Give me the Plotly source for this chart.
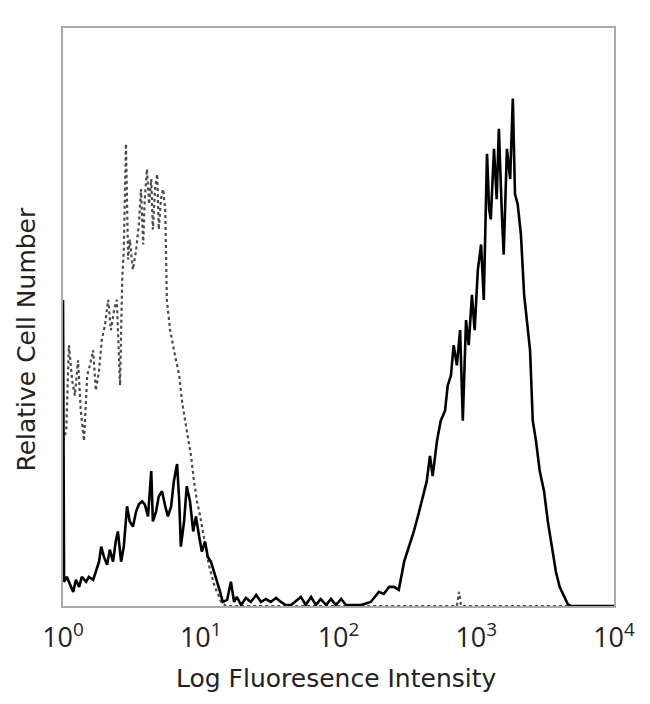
import plotly.graph_objects as go

# Flow cytometry histograms: channel (0-1024 over 4 decades) vs relative count
solid_channel = [0, 2, 7, 13, 19, 24, 30, 35, 43, 48, 56, 61, 67, 71, 76, 82, 87, 93, 98, 102,
                 108, 113, 119, 124, 130, 136, 141, 147, 152, 158, 164, 167, 173, 178, 184, 190,
                 195, 201, 206, 212, 216, 219, 225, 230, 236, 242, 247, 253, 258, 264, 269, 275,
                 281, 286, 292, 297, 305, 312, 318, 323, 331, 340, 349, 359, 368, 377, 386, 396,
                 405, 414, 424, 442, 451, 461, 470, 479, 489, 498, 507, 517, 526, 535, 554, 572,
                 587, 596, 606, 615, 624, 634, 643, 652, 661, 669, 676, 682, 687, 695, 702, 710,
                 715, 721, 726, 732, 738, 743, 749, 754, 760, 765, 771, 777, 782, 788, 792, 795,
                 801, 806, 810, 816, 819, 825, 831, 836, 840, 845, 851, 857, 862, 868, 873, 879,
                 886, 894, 901, 909, 916, 923, 931, 938, 944, 962, 1024]
solid_count = [60.8, 4.8, 5.8, 4.2, 2.8, 5.2, 3.8, 5.8, 4.8, 5.8, 5.2, 6.8, 8.8, 11.8, 9.8, 8.2,
               11.2, 8.8, 12.8, 14.8, 8.8, 11.8, 19.8, 16.8, 15.8, 18.8, 20.2, 20.8, 20.2, 17.8,
               26.8, 16.8, 18.8, 21.8, 22.8, 19.8, 17.8, 19.8, 24.8, 28.2, 20.8, 11.8, 16.8, 23.8,
               20.8, 14.8, 17.8, 13.8, 10.8, 12.8, 9.8, 8.8, 6.8, 4.8, 2.8, 0.8, 1.2, 4.8, 0.8,
               1.8, 0.2, 1.6, 0.8, 2.2, 0.8, 1.4, 0.8, 1.6, 0.8, 0.2, 0.2, 1.8, 0.2, 1.8, 0.2,
               1.4, 0.2, 1.4, 0.2, 1.4, 0.2, 0.2, 0.2, 0.8, 2.8, 2.4, 3.8, 3.8, 3.2, 8.8, 11.8,
               14.8, 18.4, 21.8, 24.8, 29.8, 25.8, 32.8, 36.8, 38.8, 43.8, 45.8, 51.8, 47.8, 54.8,
               36.8, 56.8, 51.8, 61.8, 54.8, 66.8, 71.8, 60.8, 89.8, 78.8, 76.8, 90.8, 80.8, 94.8,
               76.8, 69.8, 90.8, 84.8, 100.8, 81.8, 79.8, 73.8, 61.8, 56.8, 50.8, 36.8, 32.8,
               26.8, 22.8, 16.8, 11.8, 6.8, 3.8, 1.8, 0.4, 0.0, 0.0, 0.0]

dotted_channel = [0, 6, 11, 17, 22, 28, 33, 39, 45, 50, 56, 61, 67, 72, 78, 84, 89, 95, 100, 106,
                  110, 113, 117, 121, 124, 130, 136, 141, 145, 149, 152, 156, 160, 164, 167, 171,
                  175, 178, 182, 186, 190, 193, 199, 204, 210, 216, 221, 227, 232, 238, 243, 249,
                  255, 260, 266, 271, 277, 282, 288, 294, 303, 732, 736, 740, 1024]
dotted_count = [32.8, 34.8, 51.8, 44.8, 41.8, 48.8, 38.8, 32.8, 45.8, 47.8, 50.8, 42.8, 46.8,
                52.8, 55.8, 60.8, 54.8, 58.8, 60.8, 43.8, 64.8, 70.8, 91.8, 68.8, 72.8, 66.8,
                70.8, 75.8, 82.8, 71.8, 80.8, 86.8, 79.8, 84.8, 74.8, 82.8, 85.8, 74.8, 80.8,
                82.8, 78.8, 60.8, 54.8, 51.8, 48.8, 45.8, 40.8, 36.8, 33.8, 29.8, 25.2, 20.8,
                17.8, 14.8, 10.8, 8.2, 5.8, 3.8, 2.4, 0.8, 0.0, 0.0, 2.8, 0.0, 0.0]

tick_vals = [1, 10, 100, 1000, 10000]
tick_text = ["10<sup>0</sup>", "10<sup>1</sup>", "10<sup>2</sup>", "10<sup>3</sup>", "10<sup>4</sup>"]

CH_PER_DECADE = 256.0
solid_x = [10 ** (c / CH_PER_DECADE) for c in solid_channel]
dotted_x = [10 ** (c / CH_PER_DECADE) for c in dotted_channel]

fig = go.Figure()
fig.add_trace(go.Scatter(x=dotted_x, y=dotted_count, mode="lines",
                         line=dict(color="#4a4a4a", width=2.2, dash="dot"),
                         showlegend=False, hoverinfo="skip"))
fig.add_trace(go.Scatter(x=solid_x, y=solid_count, mode="lines",
                         line=dict(color="#000000", width=2.6),
                         showlegend=False, hoverinfo="skip"))

TITLE_FONT = "DejaVu Sans, Verdana, sans-serif"

fig.update_layout(
    width=650, height=704,
    margin=dict(l=55, r=44, t=20, b=106),
    paper_bgcolor="white", plot_bgcolor="white",
    font=dict(family="Open Sans, DejaVu Sans, sans-serif", color="#222222"),
    xaxis=dict(type="log", range=[0, 4], tickvals=tick_vals, ticktext=tick_text,
               showgrid=False, zeroline=False, ticks="", ticklabelstandoff=7,
               showline=True, mirror=True, linecolor="#aaaaaa", linewidth=2,
               tickfont=dict(size=27, color="#222222")),
    yaxis=dict(range=[0, 114.8], showticklabels=False, showgrid=False, zeroline=False,
               ticks="", showline=True, mirror=True, linecolor="#aaaaaa", linewidth=2),
    annotations=[
        dict(text="Relative Cell Number", textangle=-90, xref="paper", yref="paper",
             x=-0.066, y=0.462, xanchor="center", yanchor="middle", showarrow=False,
             font=dict(family=TITLE_FONT, size=25, color="#222222")),
        dict(text="Log Fluoresence Intensity", xref="paper", yref="paper",
             x=0.497, y=-0.126, xanchor="center", yanchor="middle", showarrow=False,
             font=dict(family=TITLE_FONT, size=25, color="#222222")),
    ],
)

fig.write_html("out.html")
